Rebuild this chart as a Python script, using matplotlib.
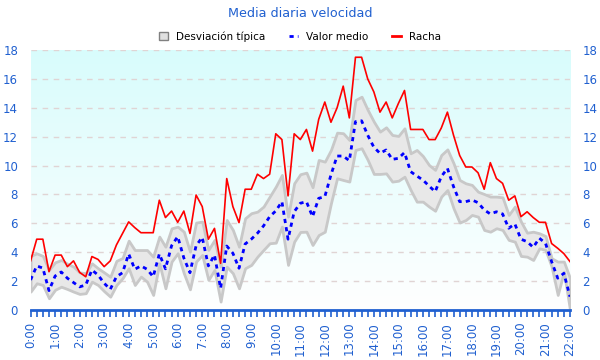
import numpy as np
import matplotlib
matplotlib.use("Agg")
import matplotlib.pyplot as plt
from matplotlib.colors import LinearSegmentedColormap
from matplotlib.patches import Patch
from matplotlib.lines import Line2D

# datos cada 15 minutos, 0:00 .. 22:00
horas = np.arange(89) * 0.25
etiquetas = ["%d:00" % h for h in range(23)]

racha = [3.4, 4.9, 4.9, 2.65, 3.8, 3.8, 3.0, 3.4, 2.6, 2.3, 3.7, 3.5, 3.0, 3.4, 4.5, 5.3,
         6.1, 5.7, 5.35, 5.35, 5.35, 7.6, 6.4, 6.85, 6.07, 6.85, 5.3, 7.96, 7.16, 4.9, 5.65,
         3.23, 9.1, 7.16, 6.05, 8.36, 8.36, 9.4, 9.1, 9.4, 12.2, 11.8, 7.9, 12.2, 11.8, 12.5,
         11.0, 13.2, 14.4, 13.0, 14.0, 15.5, 13.3, 17.5, 17.5, 16.0, 15.1, 13.7, 14.4, 13.3,
         14.3, 15.2, 12.5, 12.5, 12.5, 11.8, 11.8, 12.6, 13.7, 12.1, 10.7, 9.9, 9.9, 9.5,
         8.36, 10.2, 9.1, 8.77, 7.6, 7.9, 6.46, 6.8, 6.4, 6.07, 6.07, 4.6, 4.27, 3.9, 3.35]

media = [2.08, 3.05, 2.9, 1.34, 2.35, 2.63, 2.2, 1.9, 1.6, 1.73, 2.77, 2.42, 1.85, 1.43, 2.3,
         2.58, 3.88, 2.82, 3.05, 2.82, 2.3, 3.88, 2.85, 4.45, 5.08, 3.6, 2.58, 4.45, 5.03, 3.05,
         3.81, 1.5, 4.43, 3.93, 2.89, 4.57, 4.9, 5.31, 5.82, 6.46, 6.86, 7.5, 4.9, 6.8, 7.39,
         7.5, 6.46, 7.73, 7.85, 9.35, 10.66, 10.66, 10.34, 13.04, 13.1, 12.1, 11.27, 10.85,
         11.08, 10.43, 10.5, 10.9, 9.58, 9.28, 9.0, 8.59, 8.19, 9.23, 9.81, 8.54, 7.5, 7.5,
         7.62, 7.43, 6.93, 6.65, 6.8, 6.65, 5.66, 5.96, 4.9, 4.73, 4.34, 4.97, 4.62, 3.35, 2.2,
         2.54, 0.92]

desv_sup = [3.74, 3.92, 3.74, 2.77, 3.3, 3.46, 3.2, 3.0, 2.6, 2.55, 3.23, 2.89, 2.6, 2.3, 3.4,
            3.6, 4.8, 4.15, 4.15, 4.15, 3.69, 5.08, 4.38, 5.65, 5.77, 5.42, 4.04, 6.05, 6.12,
            4.16, 4.85, 3.0, 6.23, 5.54, 4.38, 6.35, 6.7, 6.81, 7.16, 7.85, 8.54, 9.35, 6.46,
            8.77, 9.4, 9.51, 8.5, 10.39, 10.27, 11.08, 12.28, 12.24, 11.77, 14.54, 14.77, 13.85,
            13.04, 12.35, 12.65, 12.12, 12.05, 12.58, 10.85, 11.08, 10.66, 10.04, 9.7, 10.73,
            11.12, 10.16, 9.0, 8.77, 8.66, 8.19, 8.03, 7.85, 7.85, 7.8, 6.58, 7.16, 6.12, 5.35,
            5.42, 5.31, 5.12, 3.58, 3.35, 3.35, 2.2]

desv_inf = [1.27, 1.85, 1.73, 0.81, 1.4, 1.61, 1.45, 1.27, 1.11, 1.16, 1.96, 1.73, 1.3, 0.92,
            1.73, 2.2, 2.89, 1.73, 2.31, 1.96, 1.04, 3.23, 1.5, 3.35, 3.93, 2.54, 1.43, 3.35,
            3.81, 2.08, 2.77, 0.58, 3.0, 2.54, 1.5, 2.89, 3.12, 3.69, 4.16, 4.62, 4.66, 5.77,
            3.12, 4.73, 5.4, 5.42, 4.5, 5.19, 5.42, 7.39, 9.12, 9.0, 8.89, 11.08, 11.2, 10.39,
            9.42, 9.42, 9.46, 8.89, 8.95, 9.23, 8.31, 7.5, 7.5, 7.16, 6.87, 7.85, 8.31, 7.04,
            6.05, 6.23, 6.58, 6.46, 5.54, 5.42, 5.66, 5.54, 4.85, 4.73, 3.74, 3.69, 3.46, 4.27,
            4.16, 3.0, 1.04, 2.65, 0.0]

azul = "#2060d0"

fig = plt.figure(figsize=(6, 3.6), dpi=100)
ax = fig.add_axes([0.051, 0.139, 0.899, 0.722])

# fondo degradado
cmap = LinearSegmentedColormap.from_list("fondo", ["#ffffff", "#d8fcfc"])
grad = np.linspace(0, 1, 256).reshape(-1, 1)
ax.imshow(grad, cmap=cmap, aspect="auto", origin="lower", extent=[0, 1, 0, 1],
          transform=ax.transAxes, zorder=0)

for yv in range(2, 19, 2):
    ax.axhline(yv, color="#e0d4d4", lw=1, ls=(0, (4, 4)), zorder=1)

ax.fill_between(horas, desv_inf, desv_sup, facecolor="#e8e8e8", edgecolor="#c8c8c8",
                lw=2, zorder=2)
ax.plot(horas, media, color="#0000ff", lw=2, ls=(0, (1.5, 1.5)), zorder=3)
ax.plot(horas, racha, color="#ff0000", lw=1.2, zorder=4)

ax.set_xlim(0, 22)
ax.set_ylim(0, 18)
ax.set_yticks(range(0, 19, 2))
ax.set_xticks(range(23))
ax.set_xticklabels(etiquetas, rotation=90)
ax.set_xticks(horas, minor=True)
ax.tick_params(axis="x", which="both", colors=azul, length=5, width=1.2, labelsize=8.5)
ax.tick_params(axis="y", length=0, labelsize=8.5, labelcolor=azul, labelright=True,
               pad=9)
for s in ["top", "left", "right"]:
    ax.spines[s].set_visible(False)
ax.spines["bottom"].set_color(azul)
ax.spines["bottom"].set_linewidth(2)

fig.text(0.5, 0.9625, "Media diaria velocidad", ha="center", va="center", color=azul,
         fontsize=9.2)

handles = [Patch(facecolor="#e0e0e0", edgecolor="#808080", lw=1),
           Line2D([], [], color="#0000ff", lw=2, ls=(0, (1.5, 1.5))),
           Line2D([], [], color="#ff0000", lw=2)]
fig.legend(handles, ["Desviación típica", "Valor medio", "Racha"], loc="center",
           bbox_to_anchor=(0.5, 0.899), ncol=3, frameon=False, fontsize=7.5,
           handlelength=0.9, handleheight=0.9, columnspacing=2.2, handletextpad=0.8)

fig.savefig("out.png", dpi=100)
